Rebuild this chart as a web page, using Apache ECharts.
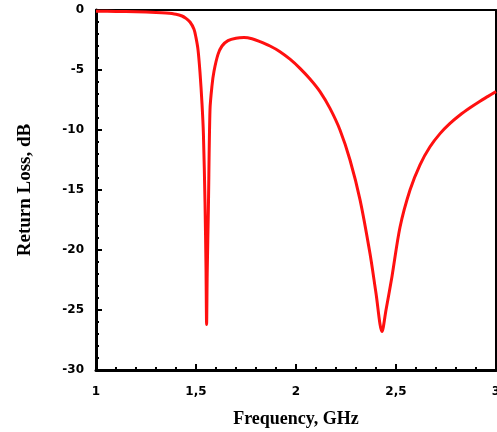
<!DOCTYPE html>
<html>
<head>
<meta charset="utf-8">
<script src="https://cdn.jsdelivr.net/npm/echarts@6/dist/echarts.min.js"></script>
<style>
  html, body { margin: 0; padding: 0; background: #fff; }
  #main { width: 497px; height: 432px; }
</style>
</head>
<body>
<div id="main"></div>
<script>
// frequency, GHz
const freq = [1.0, 1.1, 1.2, 1.3, 1.35, 1.4, 1.43, 1.45, 1.47, 1.49, 1.5, 1.51, 1.52, 1.53, 1.537, 1.545, 1.55, 1.553,
  1.556, 1.562, 1.57, 1.58, 1.59, 1.61, 1.63, 1.66, 1.7, 1.74, 1.78, 1.82, 1.87, 1.92, 1.97, 2.02, 2.07, 2.12,
  2.17, 2.22, 2.27, 2.32, 2.37, 2.4, 2.43, 2.45, 2.48, 2.52, 2.57, 2.62, 2.67, 2.72, 2.77, 2.82, 2.87, 2.92, 2.96, 3.0];
// return loss, dB
const returnLoss = [-0.1, -0.12, -0.15, -0.2, -0.25, -0.35, -0.5, -0.7, -1.0, -1.6, -2.3, -3.3, -5.2, -7.8, -10.3, -16, -21.5, -26.2,
  -22, -16.5, -8.3, -6.3, -5.1, -3.7, -3.0, -2.55, -2.35, -2.3, -2.4, -2.64, -3.0, -3.47, -4.1, -4.86, -5.75, -6.8,
  -8.2, -10, -12.5, -15.8, -20.3, -23.6, -26.8, -25, -22.2, -18.1, -15, -12.9, -11.4, -10.3, -9.45, -8.75, -8.15, -7.6, -7.2, -6.8];

const chart = echarts.init(document.getElementById('main'));

const labelStyle = {
  color: '#000',
  fontFamily: 'DejaVu Sans',
  fontWeight: 'bold',
  fontSize: 12
};
const titleStyle = { color: '#000', fontFamily: 'Liberation Serif', fontWeight: 'bold' };

// frame axes (top / right), line only
const frameAxis = {
  type: 'value',
  axisLine: { show: true, onZero: false, lineStyle: { color: '#000', width: 2 } },
  axisTick: { show: false },
  minorTick: { show: false },
  axisLabel: { show: false },
  splitLine: { show: false }
};

const option = {
  animation: false,
  grid: {
    left: 96, right: 1, top: 10, bottom: 62,
    outerBoundsMode: 'none',
    containLabel: false
  },
  xAxis: [{
    type: 'value',
    position: 'bottom',
    min: 1, max: 3, interval: 0.5,
    name: 'Frequency, GHz',
    nameLocation: 'middle',
    nameGap: 40,
    nameTextStyle: Object.assign({ fontSize: 18 }, titleStyle),
    axisLine: { onZero: false, lineStyle: { color: '#000', width: 3 } },
    axisTick: { inside: true, length: 6, lineStyle: { color: '#000', width: 2 } },
    minorTick: { show: true, splitNumber: 5, length: 3, lineStyle: { color: '#000', width: 2 } },
    splitLine: { show: false },
    axisLabel: Object.assign({ margin: 16, formatter: v => String(v).replace('.', ',') }, labelStyle)
  }, Object.assign({ position: 'top', min: 1, max: 3 }, frameAxis)],
  yAxis: [{
    type: 'value',
    position: 'left',
    min: -30, max: 0, interval: 5,
    name: 'Return Loss, dB',
    nameLocation: 'middle',
    nameGap: 61,
    nameTextStyle: Object.assign({ fontSize: 19 }, titleStyle),
    axisLine: { onZero: false, lineStyle: { color: '#000', width: 3 } },
    axisTick: { inside: true, length: 6, lineStyle: { color: '#000', width: 2 } },
    minorTick: { show: true, splitNumber: 5, length: 3, lineStyle: { color: '#000', width: 2 } },
    splitLine: { show: false },
    axisLabel: Object.assign({ margin: 12 }, labelStyle)
  }, Object.assign({ position: 'right', min: -30, max: 0 }, frameAxis)],
  series: [{
    type: 'line',
    data: freq.map((f, i) => [f, returnLoss[i]]),
    showSymbol: false,
    smooth: 0.3,
    lineStyle: { color: '#ff1010', width: 3 }
  }]
};

chart.setOption(option);
</script>
</body>
</html>
